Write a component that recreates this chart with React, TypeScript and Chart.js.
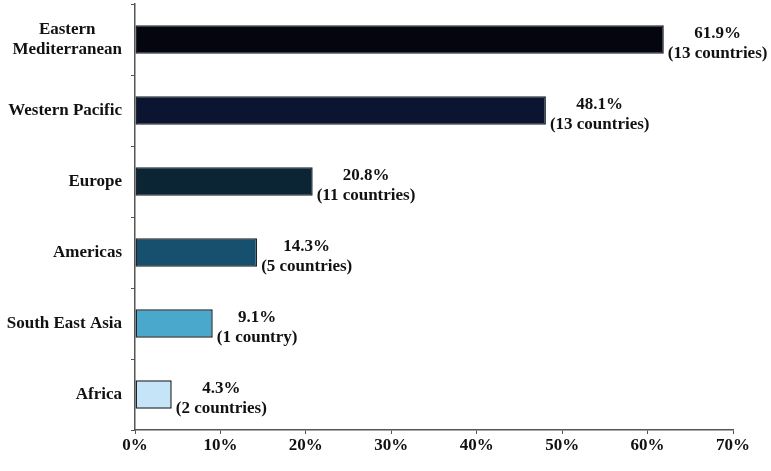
import React, { useEffect, useRef } from "react";
import { Chart, registerables } from "chart.js";

Chart.register(...registerables);

const categories: string[][] = [
  ["Eastern", "Mediterranean"],
  ["Western Pacific"],
  ["Europe"],
  ["Americas"],
  ["South East Asia"],
  ["Africa"],
];
const percentages: number[] = [61.9, 48.1, 20.8, 14.3, 9.1, 4.3];
const countryNotes: string[] = [
  "(13 countries)",
  "(13 countries)",
  "(11 countries)",
  "(5 countries)",
  "(1 country)",
  "(2 countries)",
];
const barColors: string[] = ["#04050f", "#0b1430", "#0c2535", "#17506e", "#4aa8cc", "#c5e4f7"];
const xTicks: number[] = [0, 10, 20, 30, 40, 50, 60, 70];

const FONT = "'Liberation Serif', 'DejaVu Serif', serif";

export default function App() {
  const ref = useRef<HTMLCanvasElement | null>(null);

  useEffect(() => {
    document.body.style.margin = "0";
    const canvas = ref.current;
    if (!canvas) return;

    const labelPlugin = {
      id: "customLabels",
      afterDatasetsDraw(chart: any) {
        const ctx = chart.ctx;
        const meta = chart.getDatasetMeta(0);
        ctx.save();
        ctx.fillStyle = "#111";
        ctx.font = `bold 17px ${FONT}`;
        ctx.textBaseline = "middle";
        meta.data.forEach((bar: any, i: number) => {
          const l1 = percentages[i].toFixed(1) + "%";
          const l2 = countryNotes[i];
          const w = Math.max(ctx.measureText(l1).width, ctx.measureText(l2).width);
          const cx = bar.x + 4 + w / 2;
          ctx.textAlign = "center";
          ctx.fillText(l1, cx, bar.y - 6);
          ctx.fillText(l2, cx, bar.y + 14);
        });
        // category labels
        const ys = chart.scales.y;
        categories.forEach((lines, i) => {
          const y = ys.getPixelForValue(i);
          let maxW = 0;
          lines.forEach((t) => (maxW = Math.max(maxW, ctx.measureText(t).width)));
          const right = ys.right - 13;
          const cx = right - maxW / 2;
          const lh = 20;
          const start = y - ((lines.length - 1) * lh) / 2;
          ctx.textAlign = "center";
          lines.forEach((t, k) => ctx.fillText(t, cx, start + k * lh));
        });
        ctx.restore();
      },
    };

    const chart = new Chart(canvas, {
      type: "bar",
      data: {
        labels: categories.map((c) => c.join(" ")),
        datasets: [
          {
            data: percentages,
            backgroundColor: barColors,
            borderColor: "#1c252c",
            borderWidth: 1.5,
            borderSkipped: false,
            barPercentage: 0.4,
            categoryPercentage: 1,
          },
        ],
      },
      options: {
        indexAxis: "y",
        animation: false,
        responsive: false,
        maintainAspectRatio: false,
        layout: { padding: { top: 4, right: 38, left: 0, bottom: 0 } },
        plugins: { legend: { display: false }, tooltip: { enabled: false } },
        scales: {
          x: {
            min: 0,
            max: 70,
            afterFit: (s: any) => {
              s.height = 41;
            },
            afterBuildTicks: (s: any) => {
              s.ticks = xTicks.map((v) => ({ value: v }));
            },
            ticks: {
              callback: (v: any) => v + "%",
              color: "#111",
              font: { family: FONT, size: 17, weight: "bold" },
              padding: 1,
              maxRotation: 0,
            },
            grid: { drawOnChartArea: false, drawTicks: true, tickLength: 4, color: "#555" },
            border: { display: true, color: "#555", width: 1.5 },
          },
          y: {
            afterFit: (s: any) => {
              s.width = 135;
            },
            ticks: { display: false },
            grid: { drawOnChartArea: false, drawTicks: true, tickLength: 4, color: "#555", offset: true },
            border: { display: true, color: "#555", width: 1.5 },
          },
        },
      },
      plugins: [labelPlugin],
    });
    return () => chart.destroy();
  }, []);

  return (
    <div style={{ width: 771, height: 471, background: "#fff" }}>
      <canvas ref={ref} width={771} height={471} />
    </div>
  );
}
